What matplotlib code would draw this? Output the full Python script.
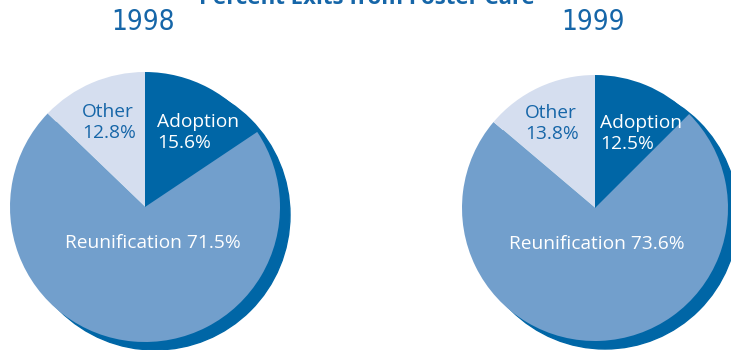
import matplotlib.pyplot as plt
from matplotlib.patches import Circle

# exits from foster care, percent
categories = ['Adoption', 'Reunification', 'Other']
years = ['1998', '1999']
shares_1998 = [15.6, 71.5, 12.8]
shares_1999 = [12.5, 73.6, 13.8]

BLUE_DARK = '#0066a6'
BLUE_MID = '#729fcc'
BLUE_LIGHT = '#d5deef'
TEXT_BLUE = '#1666a8'

plt.rcParams['font.family'] = ['Open Sans', 'DejaVu Sans']

fig = plt.figure(figsize=(7.31, 3.5), dpi=100)
ax = fig.add_axes([0, 0, 1, 1])

H = 350

def draw_pie(cx, cy, r, shares, year, dx_adopt, dx_other, dx_reun):
    # offset disc acting as a drop shadow
    ax.add_patch(Circle((cx + 10, cy - 8), r, color=BLUE_DARK, zorder=1))
    wedges, _ = ax.pie(shares, colors=[BLUE_DARK, BLUE_MID, BLUE_LIGHT],
                       startangle=90, counterclock=False, center=(cx, cy),
                       radius=r, wedgeprops=dict(linewidth=0), frame=True)
    for w in wedges:
        w.set_zorder(2)
    ax.text(cx + dx_adopt, cy + 94, f'{categories[0]}\n{shares[0]:.1f}%', color='white',
            fontsize=13.8, ha='left', va='top', linespacing=1.2, zorder=3)
    ax.text(cx + dx_other, cy + 104, f'{categories[2]}\n{shares[2]:.1f}%', color=TEXT_BLUE,
            fontsize=13.8, ha='left', va='top', linespacing=1.2, zorder=3)
    ax.text(cx + dx_reun, cy - 36, f'{categories[1]} {shares[1]:.1f}%', color='white',
            fontsize=13.8, ha='center', va='center', zorder=3)
    ax.text(cx - 2, H - 22, year, color=TEXT_BLUE, fontsize=20,
            family='DejaVu Sans', fontstretch='condensed', ha='center', va='center')

draw_pie(145, H - 207, 135, shares_1998, years[0], 12, -63, 8)
draw_pie(595, H - 208, 133, shares_1999, years[1], 5, -70, 2)

ax.set_xlim(0, 731)
ax.set_ylim(0, 350)
ax.set_aspect('equal')
ax.axis('off')

ax.text(367, H + 2, 'Percent Exits from Foster Care', color=TEXT_BLUE,
        fontsize=16, fontweight='bold', ha='center', va='center')

fig.savefig('out.png', dpi=100)
